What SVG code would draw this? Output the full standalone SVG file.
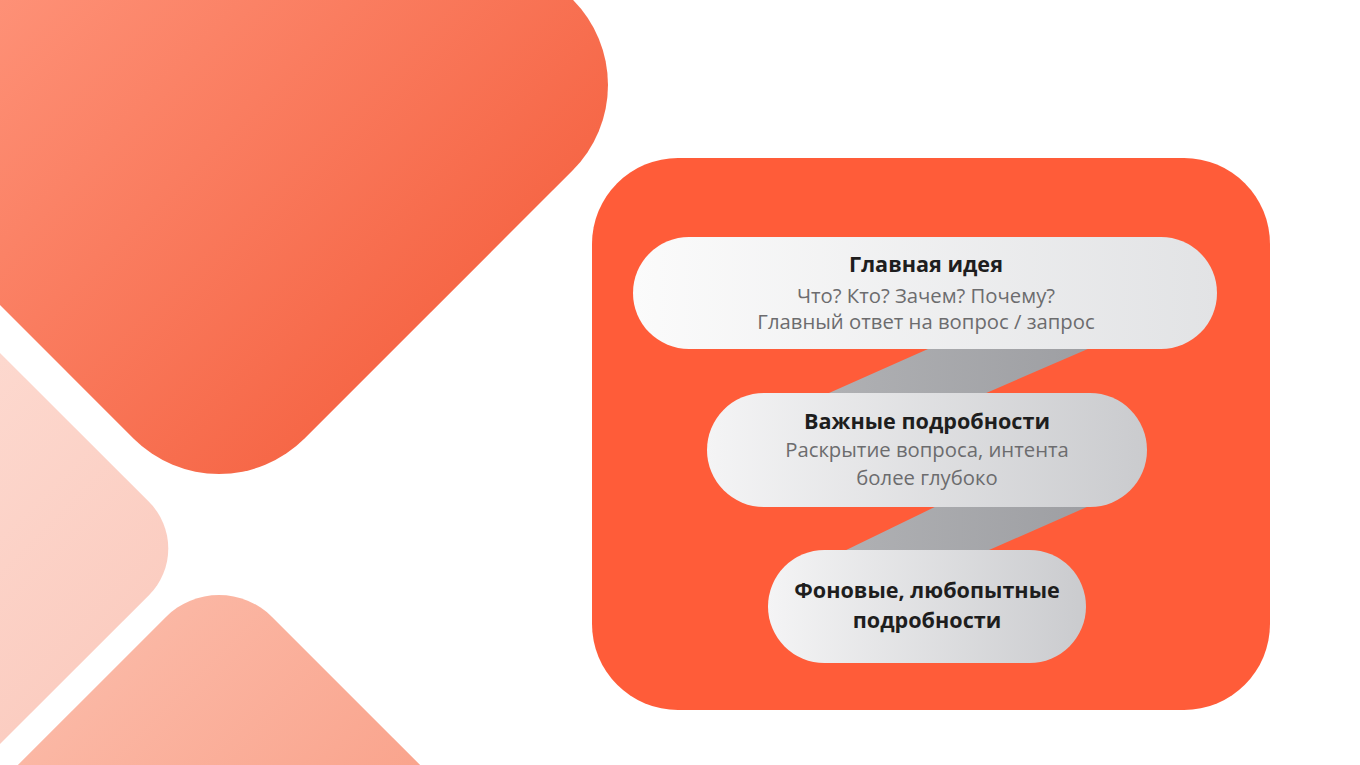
<svg xmlns="http://www.w3.org/2000/svg" width="1360" height="765" viewBox="0 0 1360 765">
<defs>
<linearGradient id="gBig" x1="0" y1="0" x2="1" y2="0"><stop offset="0" stop-color="#FF987F"/><stop offset="1" stop-color="#F66747"/></linearGradient>
<linearGradient id="gPale" x1="0" y1="0" x2="1" y2="0"><stop offset="0" stop-color="#FFE6DF"/><stop offset="1" stop-color="#FBCDC1"/></linearGradient>
<linearGradient id="gLow" x1="0" y1="0" x2="1" y2="0"><stop offset="0" stop-color="#FBB7A4"/><stop offset="1" stop-color="#F88E72"/></linearGradient>
<linearGradient id="gPill1" x1="0" y1="0" x2="1" y2="0"><stop offset="0" stop-color="#FBFBFB"/><stop offset="1" stop-color="#E2E3E5"/></linearGradient>
<linearGradient id="gPill2" x1="0" y1="0" x2="1" y2="0"><stop offset="0" stop-color="#F4F4F5"/><stop offset="1" stop-color="#CACBCE"/></linearGradient>
<linearGradient id="gConn" x1="0" y1="0" x2="1" y2="0"><stop offset="0" stop-color="#B0B1B4"/><stop offset="1" stop-color="#9D9EA2"/></linearGradient>
</defs>
<style>
.title{font-family:"Open Sans","Noto Sans","DejaVu Sans",sans-serif;font-weight:700;font-size:21.6px;fill:#1E1E1E;text-anchor:middle}
.sub{font-family:"Open Sans","Noto Sans","DejaVu Sans",sans-serif;font-weight:400;font-size:20.3px;fill:#6C6C6E;text-anchor:middle}
.conn{fill:url(#gConn)}
</style>
<rect width="1360" height="765" fill="#FFFFFF"/>
<g id="decor">
<rect x="-310.5" y="-310.5" width="621" height="621" rx="121" fill="url(#gBig)" transform="translate(219 85) rotate(45)"/>
<rect x="-310.5" y="-310.5" width="621" height="621" rx="66" fill="url(#gPale)" transform="translate(-243.5 548.5) rotate(45)"/>
<rect x="-310.5" y="-310.5" width="621" height="621" rx="75" fill="url(#gLow)" transform="translate(219 1003) rotate(45)"/>
</g>
<g id="panel">
<rect x="592" y="158" width="678" height="552" rx="86" fill="#FF5C39"/>
</g>
<g id="connectors">
<polygon class="conn" points="937,345 1097,345 977,397 820,397"/>
<polygon class="conn" points="943,503 1096,503 980,554 838,554"/>
</g>
<g id="node-main">
<rect x="633" y="237" width="584" height="112" rx="56" fill="url(#gPill1)"/>
<text class="title" x="926" y="272">Главная идея</text>
<text class="sub" x="926" y="303">Что? Кто? Зачем? Почему?</text>
<text class="sub" x="926" y="329">Главный ответ на вопрос / запрос</text>
</g>
<g id="node-important">
<rect x="707" y="393" width="440" height="114" rx="57" fill="url(#gPill2)"/>
<text class="title" x="927" y="429">Важные подробности</text>
<text class="sub" x="927" y="457">Раскрытие вопроса, интента</text>
<text class="sub" x="927" y="485">более глубоко</text>
</g>
<g id="node-background">
<rect x="768" y="550" width="318" height="113" rx="56.5" fill="url(#gPill2)"/>
<text class="title" x="927" y="598">Фоновые, любопытные</text>
<text class="title" x="927" y="628">подробности</text>
</g>
</svg>
